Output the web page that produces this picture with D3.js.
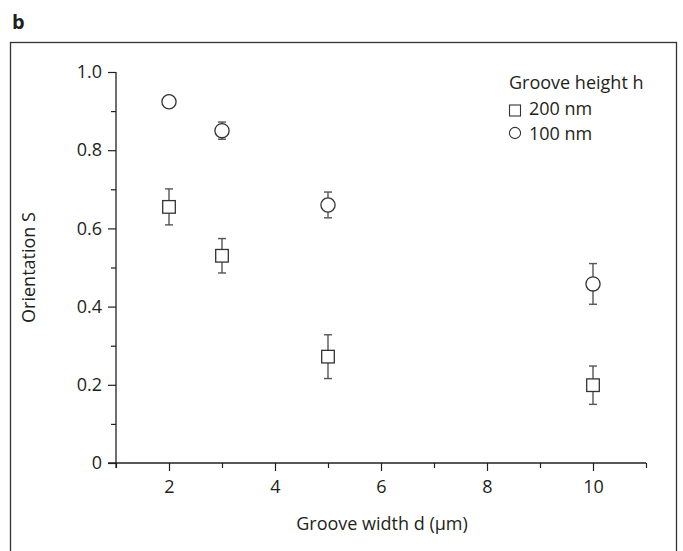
<!DOCTYPE html>
<html><head><meta charset="utf-8">
<script src="https://cdn.jsdelivr.net/npm/d3@7"></script>
<style>body{margin:0;background:#fff;}text{font-family:"Open Sans",sans-serif;fill:#231f20;}
.ax text{font-size:18px !important;font-family:"Open Sans",sans-serif !important;}</style>
</head><body>
<svg id="c" width="683" height="551"></svg>
<script>
const widths = [2, 3, 5, 10];
const s200 = [0.655, 0.530, 0.272, 0.199];
const e200 = [0.046, 0.044, 0.056, 0.049];
const s100 = [0.924, 0.850, 0.660, 0.458];
const e100 = [0.000, 0.022, 0.033, 0.052];
const xTicks = [2, 4, 6, 8, 10];
const yTicks = [0, 0.2, 0.4, 0.6, 0.8, 1.0];
const legendTitle = "Groove height h";
const legendLabels = ["200 nm", "100 nm"];

const svg = d3.select("#c");
const x = d3.scaleLinear().domain([1, 11]).range([116, 646]);
const y = d3.scaleLinear().domain([0, 1]).range([463, 72]);
const axCol = "#231f20";

// frame
svg.append("rect").attr("x", 10.5).attr("y", 42.5).attr("width", 666).attr("height", 530)
  .attr("fill", "none").attr("stroke", "#333").attr("stroke-width", 1.3);
svg.append("text").attr("x", 12).attr("y", 29).style("font-size", "20px").attr("font-weight", "bold").text("b");

// y axis
const gy = svg.append("g").attr("class", "ax").attr("transform", "translate(116,0)");
gy.call(d3.axisLeft(y).tickValues(yTicks).tickSize(8).tickPadding(6)
  .tickFormat(d => d === 0 ? "0" : d3.format(".1f")(d)));
gy.append("g").call(d3.axisLeft(y).tickValues([0.1,0.3,0.5,0.7,0.9]).tickSize(5).tickFormat(""))
  .select(".domain").remove();
// x axis
const gx = svg.append("g").attr("class", "ax").attr("transform", "translate(0,463)");
gx.call(d3.axisBottom(x).tickValues(xTicks).tickSize(8).tickPadding(9));
gx.append("g").call(d3.axisBottom(x).tickValues([1,3,5,7,9,11]).tickSize(5).tickFormat(""))
  .select(".domain").remove();
svg.selectAll(".ax").attr("font-size", 18).attr("font-family", "Open Sans");
svg.selectAll(".domain").attr("stroke", axCol).attr("stroke-width", 1.3);
svg.selectAll(".tick line").attr("stroke", axCol).attr("stroke-width", 1.2);
svg.selectAll(".tick text").attr("fill", axCol);
gx.select(".domain").attr("d", "M108,0H646");
gy.select(".domain").attr("d", "M0,72V468");

// axis titles
svg.append("text").attr("x", 382).attr("y", 530).attr("text-anchor", "middle").style("font-size", "18px")
  .text("Groove width d (\u03bcm)");
svg.append("text").attr("transform", "translate(35,267.5) rotate(-90)").attr("text-anchor", "middle")
  .style("font-size", "18px").text("Orientation S");

// error bars
function errs(vals, errsA, half) {
  const g = svg.append("g").attr("stroke", "#555").attr("stroke-width", 1.4).attr("fill", "none");
  widths.forEach((w, i) => {
    if (errsA[i] <= 0) return;
    const cx = x(w);
    const top = y(vals[i] + errsA[i]), bot = y(vals[i] - errsA[i]);
    g.append("line").attr("x1", cx).attr("x2", cx).attr("y1", top).attr("y2", y(vals[i]) - half);
    g.append("line").attr("x1", cx).attr("x2", cx).attr("y1", bot).attr("y2", y(vals[i]) + half);
    g.append("line").attr("x1", cx - 4).attr("x2", cx + 4).attr("y1", top).attr("y2", top);
    g.append("line").attr("x1", cx - 4).attr("x2", cx + 4).attr("y1", bot).attr("y2", bot);
  });
}
errs(s200, e200, 6.3);
errs(s100, e100, 0);

svg.append("g").selectAll("rect").data(widths).join("rect")
  .attr("x", (d) => x(d) - 6.3).attr("y", (d, i) => y(s200[i]) - 6.3)
  .attr("width", 12.6).attr("height", 12.6).attr("fill", "#fff").attr("stroke", "#333").attr("stroke-width", 1.3);
svg.append("g").selectAll("circle").data(widths).join("circle")
  .attr("cx", (d) => x(d)).attr("cy", (d, i) => y(s100[i])).attr("r", 7.1)
  .attr("fill", "#fff").attr("stroke", "#333").attr("stroke-width", 1.3);

// legend
svg.append("text").attr("x", 509).attr("y", 89).style("font-size", "18px").text(legendTitle);
svg.append("rect").attr("x", 509.5).attr("y", 105).attr("width", 11).attr("height", 11)
  .attr("fill", "#fff").attr("stroke", "#333").attr("stroke-width", 1.1);
svg.append("circle").attr("cx", 515).attr("cy", 133).attr("r", 5.6)
  .attr("fill", "#fff").attr("stroke", "#333").attr("stroke-width", 1.1);
svg.append("text").attr("x", 529).attr("y", 115).style("font-size", "18px").text(legendLabels[0]);
svg.append("text").attr("x", 529).attr("y", 139.5).style("font-size", "18px").text(legendLabels[1]);
</script>
</body></html>
